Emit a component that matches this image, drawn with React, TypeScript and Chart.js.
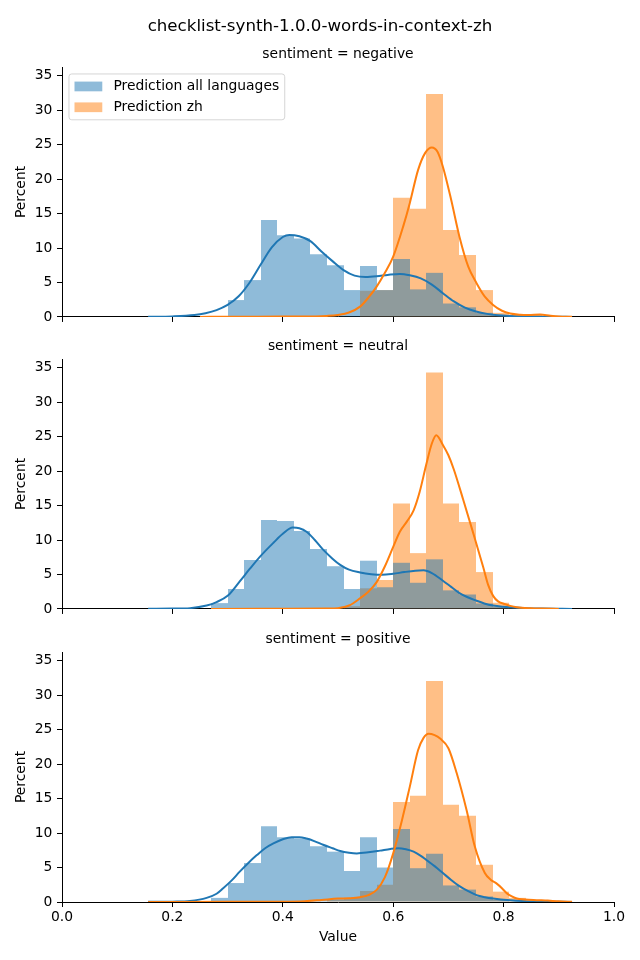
import React, { useEffect, useRef } from 'react';
import { Chart, registerables } from 'chart.js';

Chart.register(...registerables);

// ---------- text ----------
const mainTitle = 'checklist-synth-1.0.0-words-in-context-zh';
const panelTitles = ['sentiment = negative', 'sentiment = neutral', 'sentiment = positive'];
const legendLabels = ['Prediction all languages', 'Prediction zh'];
const xAxisTitle = 'Value';
const yAxisTitle = 'Percent';

// ---------- ticks ----------
const xTickValues = [0, 0.2, 0.4, 0.6, 0.8, 1.0];
const yTickValues = [0, 5, 10, 15, 20, 25, 30, 35];

// ---------- histogram bins (centres, width 0.03) ----------
const binCenters = [0.285, 0.315, 0.345, 0.375, 0.405, 0.435, 0.465, 0.495, 0.525, 0.555,
  0.585, 0.615, 0.645, 0.675, 0.705, 0.735, 0.765, 0.795, 0.825, 0.855];

// percent per bin
const histNegativeAll = [0, 2.45, 5.35, 14.05, 11.85, 11.4, 9.1, 7.5, 3.9, 7.4,
  3.9, 8.4, 4.0, 6.4, 1.95, 1.4, 0.6, 0.3, 0.1, 0];
const histNegativeZh = [0, 0, 0, 0, 0, 0, 0, 0, 0, 3.8,
  3.9, 17.3, 15.7, 32.35, 12.6, 9.0, 3.9, 0.6, 0.3, 0.3];
const histNeutralAll = [0.85, 2.9, 7.1, 12.9, 12.75, 11.3, 8.7, 6.2, 2.9, 7.0,
  3.15, 6.7, 3.8, 7.2, 2.7, 2.1, 0.8, 0.3, 0, 0];
const histNeutralZh = [0, 0, 0, 0, 0, 0, 0, 0, 0.4, 3.0,
  4.2, 15.3, 8.1, 34.3, 15.3, 12.6, 5.35, 0.9, 0.2, 0];
const histPositiveAll = [0.6, 2.75, 5.65, 11.0, 9.4, 9.2, 8.1, 7.3, 4.5, 9.4,
  5.0, 10.6, 4.9, 7.0, 2.4, 1.8, 0.8, 0.3, 0, 0];
const histPositiveZh = [0, 0, 0, 0, 0, 0, 0, 0.35, 0.6, 1.6,
  2.5, 14.5, 15.4, 32.05, 14.1, 12.5, 5.4, 1.5, 0.6, 0];

// ---------- KDE curves [x, percent density] ----------
const kdeNegativeAll = [[0.156, 0.02], [0.2, 0.08], [0.24, 0.28], [0.26, 0.55], [0.28, 1.0], [0.3, 1.75],
  [0.32, 3.0], [0.34, 5.0], [0.36, 7.6], [0.38, 10.1], [0.4, 11.6], [0.412, 11.9], [0.43, 11.7],
  [0.45, 11.0], [0.47, 9.5], [0.49, 8.1], [0.51, 6.8], [0.53, 6.0], [0.55, 5.8], [0.57, 5.9],
  [0.59, 6.1], [0.612, 6.25], [0.63, 6.05], [0.65, 5.6], [0.67, 4.7], [0.69, 3.45], [0.71, 2.25],
  [0.73, 1.35], [0.75, 0.8], [0.77, 0.45], [0.79, 0.25], [0.81, 0.15], [0.84, 0.08], [0.88, 0.03],
  [0.924, 0.01]];
const kdeNegativeZh = [[0.25, 0.01], [0.3, 0.03], [0.4, 0.05], [0.46, 0.08], [0.48, 0.15], [0.5, 0.3],
  [0.52, 0.65], [0.54, 1.5], [0.555, 2.8], [0.57, 4.4], [0.585, 6.4], [0.6, 8.75], [0.618, 13.1],
  [0.63, 16.5], [0.645, 21.3], [0.658, 23.8], [0.67, 24.6], [0.68, 24.0], [0.69, 21.8], [0.705, 17.0],
  [0.72, 11.65], [0.736, 7.3], [0.751, 4.9], [0.766, 2.95], [0.781, 1.74], [0.797, 0.9], [0.812, 0.5],
  [0.83, 0.33], [0.845, 0.3], [0.866, 0.35], [0.885, 0.18], [0.9, 0.08], [0.924, 0.02]];
const kdeNeutralAll = [[0.156, 0.02], [0.2, 0.05], [0.232, 0.12], [0.262, 0.5], [0.28, 1.0], [0.3, 1.9],
  [0.322, 4.0], [0.34, 5.8], [0.36, 7.7], [0.383, 9.6], [0.4, 10.9], [0.418, 11.8], [0.43, 11.7],
  [0.443, 11.2], [0.458, 10.0], [0.473, 8.6], [0.49, 7.3], [0.504, 6.4], [0.52, 5.7], [0.54, 5.3],
  [0.56, 5.05], [0.58, 4.95], [0.6, 5.1], [0.62, 5.35], [0.64, 5.55], [0.655, 5.6], [0.67, 5.2],
  [0.69, 4.1], [0.705, 3.2], [0.72, 2.3], [0.735, 1.7], [0.751, 1.2], [0.765, 0.8], [0.781, 0.5],
  [0.8, 0.32], [0.812, 0.25], [0.84, 0.12], [0.87, 0.05], [0.924, 0.01]];
const kdeNeutralZh = [[0.27, 0.01], [0.4, 0.02], [0.48, 0.05], [0.5, 0.12], [0.52, 0.5], [0.54, 1.55],
  [0.555, 2.5], [0.57, 3.9], [0.585, 6.2], [0.6, 9.0], [0.612, 11.2], [0.625, 12.7], [0.637, 14.3],
  [0.648, 17.0], [0.66, 21.0], [0.67, 24.0], [0.678, 25.2], [0.69, 23.8], [0.7, 22.3], [0.71, 20.2],
  [0.727, 15.8], [0.745, 11.0], [0.763, 6.1], [0.772, 3.5], [0.781, 1.9], [0.79, 1.1], [0.8, 0.75],
  [0.812, 0.45], [0.824, 0.25], [0.85, 0.1], [0.87, 0.05], [0.9, 0.01]];
const kdePositiveAll = [[0.156, 0.02], [0.2, 0.05], [0.232, 0.15], [0.262, 0.6], [0.28, 1.2], [0.292, 2.0],
  [0.307, 3.1], [0.322, 4.4], [0.338, 5.7], [0.353, 6.8], [0.368, 7.8], [0.383, 8.5], [0.4, 9.1],
  [0.416, 9.4], [0.43, 9.4], [0.443, 9.2], [0.458, 8.8], [0.473, 8.3], [0.49, 7.8], [0.504, 7.4],
  [0.52, 7.15], [0.534, 7.05], [0.555, 7.2], [0.576, 7.45], [0.595, 7.7], [0.609, 7.8], [0.623, 7.65],
  [0.637, 7.3], [0.65, 6.7], [0.66, 6.1], [0.675, 5.2], [0.69, 4.2], [0.705, 3.2], [0.72, 2.3],
  [0.735, 1.6], [0.751, 1.0], [0.766, 0.7], [0.781, 0.5], [0.812, 0.25], [0.84, 0.12], [0.87, 0.05],
  [0.924, 0.01]];
const kdePositiveZh = [[0.156, 0.01], [0.3, 0.03], [0.4, 0.05], [0.44, 0.12], [0.47, 0.3], [0.5, 0.5],
  [0.52, 0.55], [0.54, 0.7], [0.555, 1.0], [0.57, 1.75], [0.585, 3.6], [0.6, 7.05], [0.616, 11.9],
  [0.63, 16.7], [0.645, 22.0], [0.655, 23.8], [0.664, 24.4], [0.675, 24.2], [0.685, 23.7], [0.7, 22.3],
  [0.715, 18.7], [0.733, 13.3], [0.748, 8.0], [0.766, 4.2], [0.777, 3.2], [0.787, 2.7], [0.797, 2.0],
  [0.806, 1.25], [0.815, 0.8], [0.824, 0.5], [0.854, 0.3], [0.88, 0.2], [0.9, 0.1], [0.924, 0.03]];

const panelHistAll = [histNegativeAll, histNeutralAll, histPositiveAll];
const panelHistZh = [histNegativeZh, histNeutralZh, histPositiveZh];
const panelKdeAll = [kdeNegativeAll, kdeNeutralAll, kdePositiveAll];
const panelKdeZh = [kdeNegativeZh, kdeNeutralZh, kdePositiveZh];

// ---------- style ----------
const FONT = "'DejaVu Sans', 'Noto Sans', sans-serif";
const FS = 13.89;
const C0 = '#1f77b4';
const C1 = '#ff7f0e';
const C0_FILL = 'rgba(31,119,180,0.5)';
const C1_FILL = 'rgba(255,127,14,0.5)';

const panelLayout = [
  { top: 0, height: 330, padTop: 67, xAxisH: 13 },
  { top: 330, height: 292, padTop: 29, xAxisH: 13 },
  { top: 622, height: 338, padTop: 30, xAxisH: 58 },
];

// snap bar edges to whole pixels so adjacent bins share an edge without seams
const snapBarsPlugin = {
  id: 'snapBars',
  afterDatasetsUpdate(chart: any) {
    chart.getSortedVisibleDatasetMetas().forEach((meta: any) => {
      if (meta.type !== 'bar') return;
      meta.data.forEach((el: any) => {
        const l = Math.round(el.x - el.width / 2);
        const r = Math.round(el.x + el.width / 2);
        el.x = (l + r) / 2;
        el.width = r - l;
      });
    });
  },
};

const decorPlugin = {
  id: 'mplDecor',
  afterDatasetsDraw(chart: any, _args: any, opts: any) {
    const ctx = chart.ctx;
    const ca = chart.chartArea;
    ctx.save();
    ctx.fillStyle = '#000';
    ctx.textAlign = 'center';
    ctx.textBaseline = 'middle';
    ctx.font = `${FS}px ${FONT}`;
    ctx.fillText(opts.panelTitle, (ca.left + ca.right) / 2, ca.top - 13);
    if (opts.mainTitle) {
      ctx.font = `${16.67}px ${FONT}`;
      ctx.fillText(opts.mainTitle, 320, 27);
    }
    if (opts.legend) {
      const items = opts.legend as { label: string; color: string }[];
      ctx.font = `${FS}px ${FONT}`;
      const textW = Math.max(...items.map((it) => ctx.measureText(it.label).width));
      const pad = 0.4 * FS, handleLen = 2 * FS, handlePad = 0.8 * FS, spacing = 0.5 * FS;
      const x0 = ca.left + 0.5 * FS, y0 = ca.top + 0.5 * FS;
      const w = pad * 2 + handleLen + handlePad + textW;
      const h = pad * 2 + items.length * FS + (items.length - 1) * spacing;
      const r = 0.2 * FS;
      ctx.beginPath();
      ctx.moveTo(x0 + r, y0);
      ctx.lineTo(x0 + w - r, y0);
      ctx.arcTo(x0 + w, y0, x0 + w, y0 + r, r);
      ctx.lineTo(x0 + w, y0 + h - r);
      ctx.arcTo(x0 + w, y0 + h, x0 + w - r, y0 + h, r);
      ctx.lineTo(x0 + r, y0 + h);
      ctx.arcTo(x0, y0 + h, x0, y0 + h - r, r);
      ctx.lineTo(x0, y0 + r);
      ctx.arcTo(x0, y0, x0 + r, y0, r);
      ctx.closePath();
      ctx.fillStyle = 'rgba(255,255,255,0.8)';
      ctx.fill();
      ctx.strokeStyle = 'rgba(204,204,204,0.8)';
      ctx.lineWidth = 1;
      ctx.stroke();
      items.forEach((it, i) => {
        const cy = y0 + pad + FS / 2 + i * (FS + spacing);
        ctx.fillStyle = it.color;
        ctx.fillRect(x0 + pad, cy - 0.35 * FS, handleLen, 0.7 * FS);
        ctx.fillStyle = '#000';
        ctx.textAlign = 'left';
        ctx.fillText(it.label, x0 + pad + handleLen + handlePad, cy);
      });
    }
    ctx.restore();
  },
};

function Panel({ index }: { index: number }) {
  const ref = useRef<HTMLCanvasElement>(null);
  const lay = panelLayout[index];
  const isBottom = index === panelLayout.length - 1;

  useEffect(() => {
    const canvas = ref.current;
    if (!canvas) return;
    const toPts = (arr: number[][]) => arr.map(([x, y]) => ({ x, y }));
    const chart = new Chart(canvas, {
      type: 'bar',
      data: {
        datasets: [
          {
            type: 'line',
            label: 'kde zh',
            data: toPts(panelKdeZh[index]),
            borderColor: C1,
            borderWidth: 2,
            pointRadius: 0,
            fill: false,
            cubicInterpolationMode: 'monotone',
            order: 1,
          } as any,
          {
            type: 'line',
            label: 'kde all',
            data: toPts(panelKdeAll[index]),
            borderColor: C0,
            borderWidth: 2,
            pointRadius: 0,
            fill: false,
            cubicInterpolationMode: 'monotone',
            order: 2,
          } as any,
          {
            type: 'bar',
            label: legendLabels[0],
            data: binCenters.map((x, i) => ({ x, y: panelHistAll[index][i] })),
            backgroundColor: C0_FILL,
            borderWidth: 0,
            barPercentage: 1,
            categoryPercentage: 1,
            grouped: false,
            inflateAmount: 0,
            order: 3,
          } as any,
          {
            type: 'bar',
            label: legendLabels[1],
            data: binCenters.map((x, i) => ({ x, y: panelHistZh[index][i] })),
            backgroundColor: C1_FILL,
            borderWidth: 0,
            barPercentage: 1,
            categoryPercentage: 1,
            grouped: false,
            inflateAmount: 0,
            order: 4,
          } as any,
        ],
      },
      options: {
        responsive: false,
        animation: false,
        events: [],
        layout: { padding: { top: lay.padTop, left: 0, right: 26, bottom: 0 } },
        plugins: {
          legend: { display: false },
          tooltip: { enabled: false },
          title: { display: false },
          mplDecor: {
            panelTitle: panelTitles[index],
            mainTitle: index === 0 ? mainTitle : null,
            legend: index === 0
              ? [
                  { label: legendLabels[0], color: C0_FILL },
                  { label: legendLabels[1], color: C1_FILL },
                ]
              : null,
          },
        } as any,
        scales: {
          x: {
            type: 'linear',
            min: 0,
            max: 1,
            offset: false,
            grid: {
              display: true,
              offset: false,
              drawOnChartArea: false,
              drawTicks: true,
              tickLength: 5,
              color: '#000',
              lineWidth: 1,
            },
            border: { display: true, color: '#000', width: 1 },
            ticks: {
              display: isBottom,
              padding: 2,
              color: '#000',
              font: { family: FONT, size: FS },
              maxRotation: 0,
              autoSkip: false,
              callback: (v: any) => Number(v).toFixed(1),
            },
            afterBuildTicks: (s: any) => {
              s.ticks = xTickValues.map((v) => ({ value: v }));
            },
            title: {
              display: isBottom,
              text: xAxisTitle,
              color: '#000',
              font: { family: FONT, size: FS },
              padding: { top: 0, bottom: 14.4 },
            },
            afterFit: (s: any) => {
              s.height = lay.xAxisH;
            },
          },
          y: {
            type: 'linear',
            min: 0,
            max: 36.26,
            grid: {
              display: true,
              offset: false,
              drawOnChartArea: false,
              drawTicks: true,
              tickLength: 5,
              color: '#000',
              lineWidth: 1,
            },
            border: { display: true, color: '#000', width: 1 },
            ticks: {
              padding: 4.7,
              color: '#000',
              font: { family: FONT, size: FS },
              includeBounds: false,
              autoSkip: false,
              callback: (v: any) => String(v),
            },
            afterBuildTicks: (s: any) => {
              s.ticks = yTickValues.map((v) => ({ value: v }));
            },
            title: {
              display: true,
              text: yAxisTitle,
              color: '#000',
              font: { family: FONT, size: FS },
              padding: { top: 13.4, bottom: 0 },
            },
            afterFit: (s: any) => {
              s.width = 62;
            },
          },
        } as any,
      },
      plugins: [snapBarsPlugin as any, decorPlugin as any],
    });
    return () => chart.destroy();
  }, [index]);

  return (
    <canvas
      ref={ref}
      width={640}
      height={lay.height}
      style={{ position: 'absolute', left: 0, top: lay.top, width: 640, height: lay.height }}
    />
  );
}

export default function App() {
  return (
    <div style={{ position: 'absolute', left: 0, top: 0, width: 640, height: 960, background: '#fff' }}>
      {panelLayout.map((_, i) => (
        <Panel key={i} index={i} />
      ))}
    </div>
  );
}
